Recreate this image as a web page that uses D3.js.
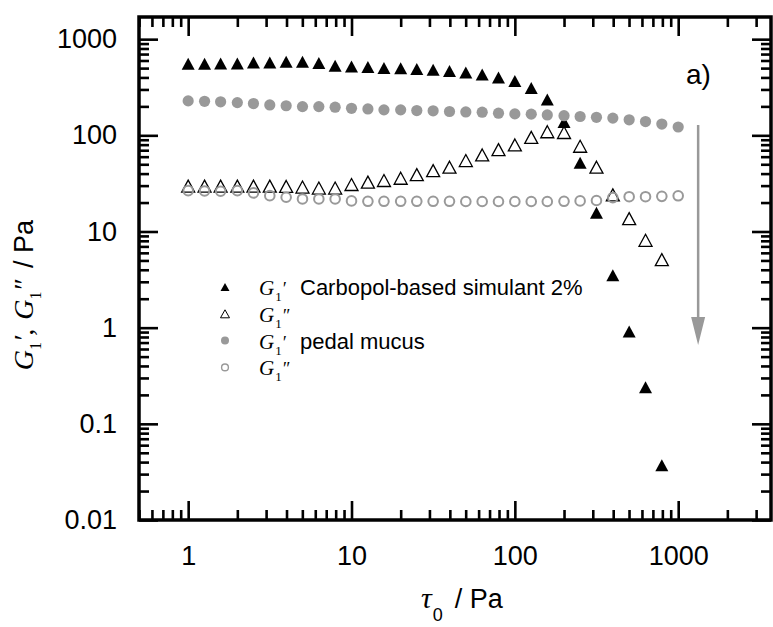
<!DOCTYPE html>
<html>
<head>
<meta charset="utf-8">
<script src="https://cdn.jsdelivr.net/npm/d3@7"></script>
<style>
  html, body { margin: 0; padding: 0; background: #fff; }
  svg { display: block; }
</style>
</head>
<body>
<div id="chart"></div>
<script>
// shear stress amplitude, Pa
const stress = [1, 1.26, 1.58, 2, 2.51, 3.16, 3.98, 5.01, 6.31, 7.94,
  10, 12.6, 15.8, 20, 25.1, 31.6, 39.8, 50.1, 63.1, 79.4,
  100, 126, 158, 200, 251, 316, 398, 501, 631, 794, 1000]

// Carbopol-based simulant 2% (30 points, up to ~800 Pa)
const carbopolG1p = [555, 555, 558, 560, 573, 573, 582, 582, 565, 528,
  520, 513, 500, 497, 490, 480, 466, 450, 428, 399,
  367, 311, 236, 138, 52, 15.7, 3.5, 0.91, 0.24, 0.037]
const carbopolG1pp = [29.6, 29.6, 29.6, 29.6, 29.6, 29.6, 29.4, 29, 28.3, 28.3,
  30.8, 32.6, 33.9, 35.8, 39, 43, 46.6, 54.7, 62.5, 71,
  79.4, 95.3, 109, 107, 77, 46.6, 24, 13.6, 8.1, 5.1]

// pedal mucus (31 points, up to 1000 Pa)
const pedalG1p = [228, 226, 223, 219, 214, 207, 203, 199, 199, 196,
  191, 188, 184, 184, 181, 180, 177, 175, 174, 170,
  167, 166, 163, 160, 157, 154, 151, 145, 139, 131, 122]
const pedalG1pp = [26.6, 26.4, 26.2, 26.6, 25.2, 23.6, 22.7, 21.8, 21.8, 21.8,
  20.8, 20.6, 20.6, 20.6, 20.6, 20.6, 20.6, 20.5, 20.5, 20.5,
  20.5, 20.5, 20.5, 20.6, 20.8, 21, 22.5, 23, 23, 23.2, 23.5]

const xTickVals = [1, 10, 100, 1000]
const xTickLabels = ['1', '10', '100', '1000']
const yTickVals = [0.01, 0.1, 1, 10, 100, 1000]
const yTickLabels = ['0.01', '0.1', '1', '10', '100', '1000']

const legendLabels = ['Carbopol-based simulant 2%', '', 'pedal mucus', '']
const legendPrimes = ['\u2032', '\u2033', '\u2032', '\u2033']

const W = 773, H = 627
const X0 = 139, X1 = 771, Y0 = 17, Y1 = 520
const GREY = '#999999'
const SANS = '"Liberation Sans", Arial, sans-serif'
const SERIF = '"Liberation Serif", "Times New Roman", serif'

const x = d3.scaleLog().domain([0.5, 3700]).range([X0, X1])
const y = d3.scaleLog().domain([0.01, 1700]).range([Y1, Y0])

const svg = d3.select('#chart').append('svg')
  .attr('width', W).attr('height', H)
svg.append('rect').attr('width', W).attr('height', H).attr('fill', '#fff')

// minor ticks: every non-decade tick the log scale offers
const isDecade = v => Math.abs(Math.log10(v) - Math.round(Math.log10(v))) < 1e-6
const xMinor = x.ticks().filter(v => !isDecade(v))
const yMinor = y.ticks().filter(v => !isDecade(v))

function styleAxis(g) {
  g.select('.domain').remove()
  g.selectAll('.tick line').attr('stroke', '#000').attr('stroke-width', 2.6)
  g.selectAll('.tick text')
    .attr('font-family', SANS).attr('font-size', 27).attr('fill', '#000')
}

// bottom
svg.append('g').attr('transform', `translate(0,${Y1})`)
  .call(d3.axisBottom(x).tickValues(xTickVals)
    .tickFormat((d, i) => xTickLabels[i]).tickSizeInner(-19).tickSizeOuter(0).tickPadding(26))
  .call(styleAxis)
svg.append('g').attr('transform', `translate(0,${Y1})`)
  .call(d3.axisBottom(x).tickValues(xMinor).tickFormat('').tickSizeInner(-10).tickSizeOuter(0))
  .call(styleAxis)
// top
svg.append('g').attr('transform', `translate(0,${Y0})`)
  .call(d3.axisTop(x).tickValues(xTickVals).tickFormat('').tickSizeInner(-19).tickSizeOuter(0))
  .call(styleAxis)
svg.append('g').attr('transform', `translate(0,${Y0})`)
  .call(d3.axisTop(x).tickValues(xMinor).tickFormat('').tickSizeInner(-10).tickSizeOuter(0))
  .call(styleAxis)
// left
svg.append('g').attr('transform', `translate(${X0},0)`)
  .call(d3.axisLeft(y).tickValues(yTickVals)
    .tickFormat((d, i) => yTickLabels[i]).tickSizeInner(-19).tickSizeOuter(0).tickPadding(22))
  .call(styleAxis)
svg.append('g').attr('transform', `translate(${X0},0)`)
  .call(d3.axisLeft(y).tickValues(yMinor).tickFormat('').tickSizeInner(-10).tickSizeOuter(0))
  .call(styleAxis)
// right
svg.append('g').attr('transform', `translate(${X1},0)`)
  .call(d3.axisRight(y).tickValues(yTickVals).tickFormat('').tickSizeInner(-19).tickSizeOuter(0))
  .call(styleAxis)
svg.append('g').attr('transform', `translate(${X1},0)`)
  .call(d3.axisRight(y).tickValues(yMinor).tickFormat('').tickSizeInner(-10).tickSizeOuter(0))
  .call(styleAxis)

svg.append('rect')
  .attr('x', X0).attr('y', Y0).attr('width', X1 - X0).attr('height', Y1 - Y0)
  .attr('fill', 'none').attr('stroke', '#000').attr('stroke-width', 3.5)

const tri = (w, h) => `M0,${-h / 2}L${w / 2},${h / 2}L${-w / 2},${h / 2}Z`

const plot = svg.append('g')

function drawSeries(values, shape, attrs) {
  const sel = plot.append('g').selectAll('.m')
    .data(values.map((v, i) => [stress[i], v]))
    .enter()
  let m
  if (shape === 'tri') {
    m = sel.append('path').attr('d', tri(13, 12))
      .attr('transform', d => `translate(${x(d[0])},${y(d[1])})`)
  } else {
    m = sel.append('circle').attr('cx', d => x(d[0])).attr('cy', d => y(d[1]))
  }
  Object.entries(attrs).forEach(([k, v]) => m.attr(k, v))
}

drawSeries(carbopolG1p, 'tri', { fill: '#000' })
drawSeries(carbopolG1pp, 'tri', { fill: 'none', stroke: '#000', 'stroke-width': 1.3 })
drawSeries(pedalG1p, 'circle', { r: 5.6, fill: GREY })
drawSeries(pedalG1pp, 'circle', { r: 4.8, fill: 'none', stroke: GREY, 'stroke-width': 2 })

// arrow
const ax = x(1325)
const aTop = y(128), aTip = y(0.66)
svg.append('line')
  .attr('x1', ax).attr('x2', ax).attr('y1', aTop).attr('y2', aTip - 20)
  .attr('stroke', GREY).attr('stroke-width', 2.5)
svg.append('path')
  .attr('d', `M${ax - 7},${aTip - 28}L${ax + 7},${aTip - 28}L${ax},${aTip}Z`)
  .attr('fill', GREY)

svg.append('text')
  .attr('x', 686).attr('y', 84)
  .attr('font-family', SANS).attr('font-size', 28)
  .text('a)')

// legend
const legend = svg.append('g')
legendLabels.forEach((label, i) => {
  const ry = 287 + i * 26.8
  if (i === 0) {
    legend.append('path').attr('d', tri(9, 8)).attr('transform', `translate(225,${ry})`).attr('fill', '#000')
  } else if (i === 1) {
    legend.append('path').attr('d', tri(9, 8)).attr('transform', `translate(225,${ry})`)
      .attr('fill', 'none').attr('stroke', '#000').attr('stroke-width', 1)
  } else if (i === 2) {
    legend.append('circle').attr('cx', 225).attr('cy', ry).attr('r', 4).attr('fill', GREY)
  } else {
    legend.append('circle').attr('cx', 225).attr('cy', ry).attr('r', 3.4)
      .attr('fill', 'none').attr('stroke', GREY).attr('stroke-width', 1.4)
  }
  const t = legend.append('text').attr('x', 259).attr('y', ry + 8)
    .attr('font-family', SERIF).attr('fill', '#000')
  t.append('tspan').attr('font-style', 'italic').attr('font-size', 21).text('G')
  t.append('tspan').attr('font-size', 13).attr('dy', 6).attr('dx', 1).text('1')
  t.append('tspan').attr('font-style', 'italic').attr('font-size', 18).attr('dy', -6).text(legendPrimes[i])
  if (label) {
    legend.append('text').attr('x', 300).attr('y', ry + 8)
      .attr('font-family', SANS).attr('font-size', 22).text(label)
  }
})

// axis titles
const xt = svg.append('text')
  .attr('x', 462).attr('y', 608).attr('text-anchor', 'middle')
  .attr('font-family', SANS).attr('font-size', 27)
xt.append('tspan').attr('font-family', SERIF).attr('font-style', 'italic').attr('font-size', 30).text('\u03c4')
xt.append('tspan').attr('font-size', 18).attr('dy', 13).attr('dx', 1).text('0')
xt.append('tspan').attr('dy', -13).attr('dx', 12).text('/ Pa')

const yt = svg.append('text')
  .attr('transform', 'translate(33,295) rotate(-90)')
  .attr('text-anchor', 'middle')
  .attr('font-family', SERIF).attr('font-size', 28)
yt.append('tspan').attr('font-style', 'italic').text('G')
yt.append('tspan').attr('font-size', 16).attr('dy', 8).text('1')
yt.append('tspan').attr('font-style', 'italic').attr('dy', -8).text('\u2032,')
yt.append('tspan').attr('font-style', 'italic').attr('dx', 9).text('G')
yt.append('tspan').attr('font-size', 16).attr('dy', 8).text('1')
yt.append('tspan').attr('font-style', 'italic').attr('dy', -8).text('\u2033')
yt.append('tspan').attr('font-family', SANS).attr('font-size', 27).attr('dx', 12).text('/ Pa')
</script>
</body>
</html>
